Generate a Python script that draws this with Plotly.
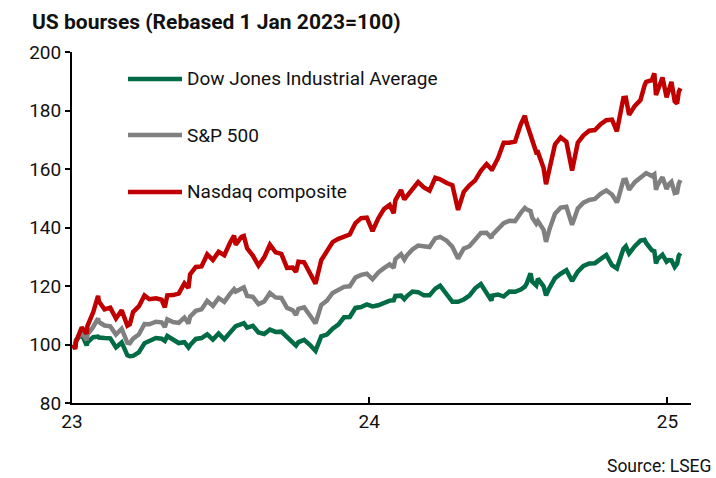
import plotly.graph_objects as go

dates = [
    "2023-01-02", "2023-01-03", "2023-01-05", "2023-01-06", "2023-01-13", "2023-01-19", "2023-01-20",
    "2023-01-27", "2023-02-02", "2023-02-03", "2023-02-10", "2023-02-17", "2023-02-24", "2023-03-03",
    "2023-03-10", "2023-03-13", "2023-03-17", "2023-03-24", "2023-03-31", "2023-04-06", "2023-04-14",
    "2023-04-21", "2023-04-25", "2023-04-28", "2023-05-05", "2023-05-12", "2023-05-19", "2023-05-24",
    "2023-05-26", "2023-06-02", "2023-06-09", "2023-06-16", "2023-06-23", "2023-06-30", "2023-07-07",
    "2023-07-14", "2023-07-19", "2023-07-21", "2023-07-28", "2023-07-31", "2023-08-04", "2023-08-11",
    "2023-08-18", "2023-08-25", "2023-09-01", "2023-09-08", "2023-09-15", "2023-09-22", "2023-09-29",
    "2023-10-03", "2023-10-06", "2023-10-13", "2023-10-20", "2023-10-27", "2023-11-03", "2023-11-10",
    "2023-11-17", "2023-11-24", "2023-12-01", "2023-12-08", "2023-12-15", "2023-12-22", "2023-12-29",
    "2024-01-05", "2024-01-12", "2024-01-19", "2024-01-26", "2024-01-31", "2024-02-02", "2024-02-09",
    "2024-02-13", "2024-02-16", "2024-02-23", "2024-03-01", "2024-03-08", "2024-03-15", "2024-03-22",
    "2024-03-28", "2024-04-05", "2024-04-12", "2024-04-19", "2024-04-26", "2024-05-03", "2024-05-10",
    "2024-05-17", "2024-05-24", "2024-05-30", "2024-05-31", "2024-06-07", "2024-06-14", "2024-06-21",
    "2024-06-28", "2024-07-05", "2024-07-10", "2024-07-12", "2024-07-17", "2024-07-19", "2024-07-24",
    "2024-07-26", "2024-08-02", "2024-08-05", "2024-08-09", "2024-08-16", "2024-08-23", "2024-08-30",
    "2024-09-06", "2024-09-13", "2024-09-20", "2024-09-27", "2024-10-04", "2024-10-11", "2024-10-18",
    "2024-10-25", "2024-10-31", "2024-11-01", "2024-11-08", "2024-11-11", "2024-11-15", "2024-11-22",
    "2024-11-29", "2024-12-04", "2024-12-06", "2024-12-13", "2024-12-16", "2024-12-18", "2024-12-20",
    "2024-12-26", "2024-12-31", "2025-01-03", "2025-01-06", "2025-01-10", "2025-01-13", "2025-01-15",
    "2025-01-17",
]

dow = [
    100.0, 99.97, 99.3, 101.5, 103.5, 99.7, 100.7,
    102.5, 102.7, 102.4, 102.2, 102.1, 99.0, 100.7,
    96.3, 96.0, 96.1, 97.3, 100.4, 101.0, 102.2,
    102.0, 101.2, 102.9, 101.6, 100.5, 100.8, 99.0,
    99.8, 101.9, 102.2, 103.5, 101.7, 103.8, 101.8,
    104.1, 105.8, 106.3, 107.0, 107.3, 105.8, 106.4,
    104.1, 103.6, 105.1, 104.3, 104.4, 102.5, 101.1,
    99.6, 100.8, 101.6, 99.9, 97.8, 102.8, 103.4,
    105.4, 106.8, 109.3, 109.4, 112.5, 112.8, 113.7,
    113.0, 113.4, 114.2, 115.0, 115.1, 116.6, 116.7,
    115.5, 116.5, 118.1, 117.9, 116.8, 116.8, 119.1,
    120.1, 117.4, 114.6, 114.6, 115.4, 116.7, 119.2,
    120.7, 117.9, 115.0, 116.7, 117.1, 116.4, 118.1,
    118.0, 118.8, 119.8, 120.7, 124.3, 121.5, 120.2,
    122.5, 119.9, 116.8, 119.2, 122.7, 124.2, 125.4,
    121.7, 124.9, 126.9, 127.7, 127.8, 129.3, 130.6,
    127.1, 126.0, 126.9, 132.7, 133.6, 131.1, 133.6,
    135.5, 135.8, 134.7, 132.2, 131.9, 127.7, 129.2,
    130.7, 128.3, 128.9, 128.8, 126.5, 127.6, 130.4,
    131.2,
]

sp500 = [
    100.0, 99.6, 99.2, 101.4, 104.2, 101.5, 103.4,
    106.0, 108.9, 107.7, 106.5, 106.2, 103.4, 105.4,
    100.6, 100.4, 102.0, 103.4, 107.0, 106.9, 107.8,
    107.6, 106.0, 108.6, 107.7, 107.4, 109.2, 107.2,
    109.5, 111.5, 112.0, 114.9, 113.2, 115.9, 114.6,
    117.3, 118.9, 118.1, 119.3, 119.5, 116.6, 116.3,
    113.8, 114.7, 117.6, 116.1, 115.9, 112.5, 111.7,
    110.1, 112.2, 112.7, 110.0, 107.2, 113.5, 115.0,
    117.6, 118.7, 119.7, 119.9, 122.9, 123.8, 124.2,
    122.3, 124.6, 126.1, 127.4, 126.2, 129.2, 130.9,
    129.0, 130.4, 132.5, 133.8, 133.4, 133.3, 136.3,
    136.8, 135.5, 133.4, 129.4, 132.8, 133.6, 136.0,
    138.1, 138.2, 136.4, 137.5, 139.3, 141.5, 142.3,
    142.2, 145.0, 146.7, 146.2, 145.6, 143.4, 141.3,
    142.2, 139.2, 135.1, 139.2, 144.7, 146.8, 147.1,
    140.9, 146.5, 148.5, 149.4, 149.8, 151.5, 152.7,
    151.3, 148.6, 149.2, 156.2, 156.3, 152.9, 155.5,
    157.1, 158.5, 158.6, 157.6, 158.2, 152.9, 154.5,
    157.2, 153.2, 154.8, 155.6, 151.8, 152.0, 155.0,
    156.2,
]

nasdaq = [
    100.0, 99.2, 98.5, 101.0, 105.9, 103.7, 106.4,
    111.0, 116.6, 114.7, 112.0, 112.6, 108.9, 111.7,
    106.4, 106.9, 111.1, 113.0, 116.8, 115.5, 115.8,
    115.3, 112.7, 116.8, 116.9, 117.4, 120.9, 119.3,
    124.0, 126.5, 126.7, 130.8, 128.9, 131.7, 130.5,
    134.8, 137.2, 134.1, 136.8, 137.1, 132.9, 130.4,
    127.0, 129.8, 134.1, 131.5, 131.0, 126.2, 126.3,
    124.8, 128.3, 128.1, 124.1, 120.8, 128.8, 131.8,
    135.0, 136.1, 136.7, 137.6, 141.5, 143.2, 143.4,
    138.8, 143.1, 146.3, 147.7, 144.9, 149.3, 152.8,
    149.6, 150.7, 152.8, 155.5, 153.7, 152.6, 157.0,
    156.5, 155.2, 154.5, 146.0, 152.2, 154.4, 156.1,
    159.4, 161.7, 159.9, 159.9, 163.7, 169.0, 169.0,
    169.4, 175.3, 178.2, 175.8, 171.9, 169.4, 165.7,
    165.8, 160.3, 154.8, 160.0, 168.4, 170.8, 169.3,
    159.5, 169.0, 171.5, 173.1, 173.3, 175.3, 176.7,
    176.9, 172.9, 174.3, 184.3, 184.4, 178.5, 181.6,
    183.6, 188.6, 189.8, 190.4, 192.7, 185.3, 187.0,
    191.3, 184.5, 187.5, 189.8, 183.1, 182.4, 186.4,
    187.6,
]

series_names = ["Dow Jones Industrial Average", "S&P 500", "Nasdaq composite"]
series_colors = ["#006B45", "#808080", "#C00000"]
tick_vals = ["2023-01-01", "2024-01-01", "2025-01-01"]
tick_text = ["23", "24", "25"]

FONT = "Roboto"

fig = go.Figure()
for name, vals, col in zip(series_names, [dow, sp500, nasdaq], series_colors):
    fig.add_trace(go.Scatter(x=dates, y=vals, mode="lines", name=name,
                             line=dict(color=col, width=4.5), showlegend=False))

# manual legend
leg_y_px = [79, 135, 192]
for name, col, py in zip(series_names, series_colors, leg_y_px):
    yp = (403 - py) / 351
    fig.add_shape(type="line", xref="paper", yref="paper",
                  x0=(128 - 72) / 619, x1=(182 - 72) / 619, y0=yp, y1=yp,
                  line=dict(color=col, width=4.5))
    fig.add_annotation(xref="paper", yref="paper", x=(185 - 72) / 619, y=yp,
                       text=name, showarrow=False, xanchor="left", yanchor="middle",
                       font=dict(family=FONT, size=19, color="#111111"))

fig.add_annotation(xref="paper", yref="paper", x=(714 - 72) / 619, y=(403 - 466) / 351,
                   text="Source: LSEG", showarrow=False, xanchor="right", yanchor="middle",
                   font=dict(family=FONT, size=17.5, color="#111111"))

fig.update_layout(
    width=716, height=478,
    margin=dict(l=72, r=25, t=52, b=75),
    paper_bgcolor="white", plot_bgcolor="white",
    title=dict(text="<b>US bourses (Rebased 1 Jan 2023=100)</b>", x=32 / 716, xanchor="left",
               y=1 - 22 / 478, yanchor="middle",
               font=dict(family=FONT, size=21, color="#111111")),
    font=dict(family=FONT, size=19, color="#111111"),
    xaxis=dict(type="date", range=["2023-01-01", "2025-01-30"], tickvals=tick_vals, ticktext=tick_text,
               ticks="inside", ticklen=6, tickwidth=1.5, tickcolor="black",
               showline=True, linecolor="black", linewidth=2, showgrid=False, zeroline=False,
               tickfont=dict(family=FONT, size=19)),
    yaxis=dict(range=[80, 200], dtick=20, tick0=80, ticks="outside", ticklen=5, tickwidth=1.5,
               tickcolor="black", showline=True, linecolor="black", linewidth=2,
               showgrid=False, zeroline=False, tickfont=dict(family=FONT, size=19)),
)

fig.write_html("out.html", config={"displayModeBar": False},
               post_script="document.body.style.margin='0px';")
